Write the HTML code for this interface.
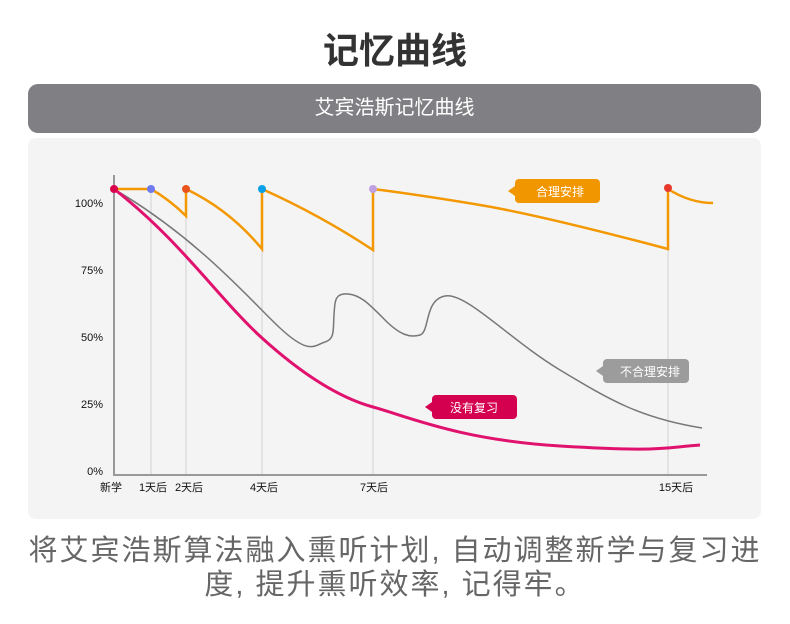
<!DOCTYPE html>
<html><head><meta charset="utf-8"><style>
body{margin:0;width:790px;height:624px;background:#fff;font-family:"Liberation Sans","Noto Sans CJK SC",sans-serif;overflow:hidden;position:relative}
.t{position:absolute;left:0;width:790px;text-align:center}
</style></head><body>
<div class="t" style="top:22px;font-size:36px;font-weight:bold;color:#333">记忆曲线</div>
<div style="position:absolute;left:28px;top:84px;width:733px;height:49px;background:#808084;border-radius:10px;color:#fff;font-size:20px;text-align:center;line-height:49px">艾宾浩斯记忆曲线</div>
<div style="position:absolute;left:28px;top:138px;width:733px;height:381px;background:#f4f4f4;border-radius:8px"></div>
<svg style="position:absolute;left:0;top:0" width="790" height="624" font-family="Liberation Sans,Noto Sans CJK SC,sans-serif">
<g stroke="#ddd" stroke-width="1.5">
<line x1="151" y1="189" x2="151" y2="475"/><line x1="186" y1="189" x2="186" y2="475"/><line x1="262" y1="189" x2="262" y2="475"/><line x1="373" y1="189" x2="373" y2="475"/><line x1="668" y1="189" x2="668" y2="475"/>
</g>
<path d="M114 175V475H707" fill="none" stroke="#999" stroke-width="2"/>
<g font-size="11" fill="#111" text-anchor="end">
<text x="103" y="207">100%</text><text x="103" y="274">75%</text><text x="103" y="341">50%</text><text x="103" y="408">25%</text><text x="103" y="475">0%</text>
</g>
<g font-size="11" fill="#111" text-anchor="middle">
<text x="111" y="491">新学</text><text x="153" y="491">1天后</text><text x="189" y="491">2天后</text><text x="264" y="491">4天后</text><text x="374" y="491">7天后</text><text x="676" y="491">15天后</text>
</g>
<path d="M114 189C200 240 250 300 280 328S315 345 325 342S333 330 334 315S335 293 348 294S370 305 385 320S410 338 420 335S424 300 445 296S510 340 560 370S640 418 702 428" fill="none" stroke="#777" stroke-width="1.5"/>
<path d="M114 189C180 240 220 300 262 338S340 398 373 407S460 440 560 446S660 448 700 445" fill="none" stroke="#e0126e" stroke-width="3"/>
<path d="M114 189H151Q170 200 186 216V189Q230 210 262 249V189Q320 215 373 250V189Q420 195 480 205T668 249V189Q690 203 713 203" fill="none" stroke="#f39800" stroke-width="2.5" stroke-linejoin="miter"/>
<circle cx="114" cy="189" r="4" fill="#d9004c"/><circle cx="151" cy="189" r="4" fill="#6f7bef"/><circle cx="186" cy="189" r="4" fill="#e8541c"/><circle cx="262" cy="189" r="4" fill="#0aa0e8"/><circle cx="373" cy="189" r="4" fill="#c0a0e0"/><circle cx="668" cy="188" r="4" fill="#e8382c"/>
<rect x="515" y="179" width="85" height="24" rx="4" fill="#f29600"/><path d="M515 186L508 191L515 196Z" fill="#f29600"/>
<text x="560" y="196" font-size="12" fill="#fff" text-anchor="middle">合理安排</text>
<rect x="603" y="359" width="86" height="24" rx="4" fill="#9c9c9c"/><path d="M603 366L596 371L603 376Z" fill="#9c9c9c"/>
<text x="650" y="376" font-size="12" fill="#fff" text-anchor="middle">不合理安排</text>
<rect x="432" y="395" width="85" height="24" rx="4" fill="#d4004f"/><path d="M432 402L425 407L432 412Z" fill="#d4004f"/>
<text x="474" y="412" font-size="12" fill="#fff" text-anchor="middle">没有复习</text>
</svg>
<div class="t" style="top:534px;font-size:29px;letter-spacing:2px;color:#666;line-height:34px">将艾宾浩斯算法融入熏听计划, 自动调整新学与复习进<br>度, 提升熏听效率, 记得牢。</div>
</body></html>
